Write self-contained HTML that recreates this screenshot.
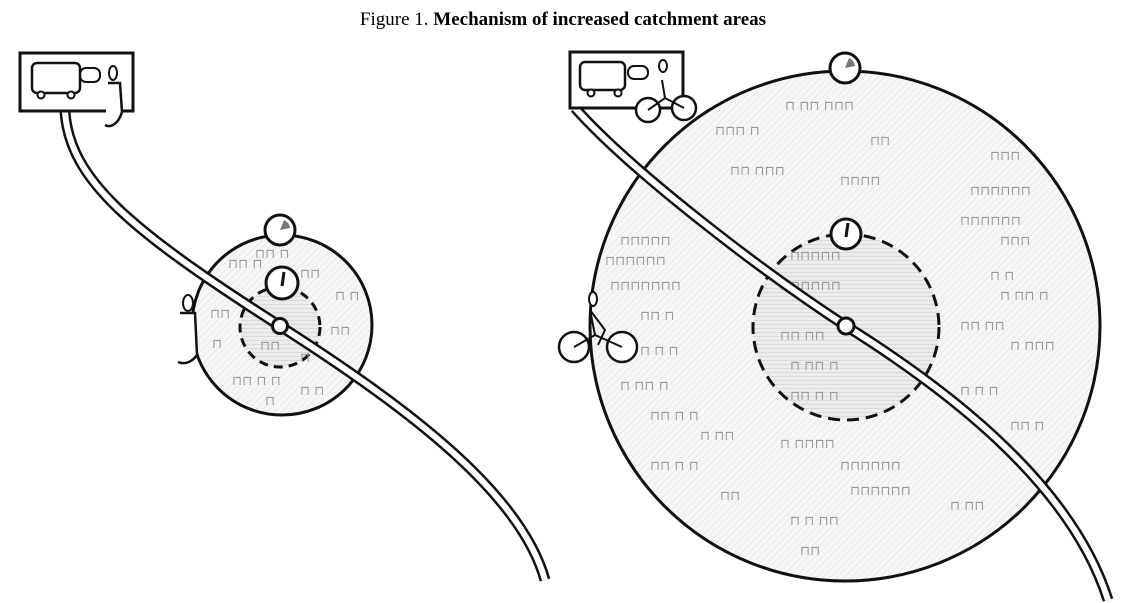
<!DOCTYPE html>
<html><head><meta charset="utf-8"><style>
html,body{margin:0;padding:0;background:#fff;}
svg{display:block;}
</style></head><body>
<svg width="1125" height="603" viewBox="0 0 1125 603" xmlns="http://www.w3.org/2000/svg">
<defs>
<pattern id="h" width="5" height="5" patternUnits="userSpaceOnUse" patternTransform="rotate(45)">
<rect width="5" height="5" fill="#f7f7f7"/><line x1="0" y1="0" x2="0" y2="5" stroke="#dcdcdc" stroke-width="1"/>
</pattern>
<pattern id="g" width="4" height="4" patternUnits="userSpaceOnUse">
<rect width="4" height="4" fill="#ececec"/><line x1="0" y1="0" x2="4" y2="0" stroke="#c8c8c8" stroke-width="1"/>
</pattern>
</defs>
<text x="563" y="25" text-anchor="middle" font-family="Liberation Serif, serif" font-size="19">Figure 1.  <tspan font-weight="bold">Mechanism of increased catchment areas</tspan></text>

<!-- LEFT -->
<circle cx="282" cy="325" r="90" fill="url(#h)" stroke="#111" stroke-width="3"/>
<circle cx="280" cy="327" r="40" fill="url(#g)" stroke="#111" stroke-width="3" stroke-dasharray="9,6"/>
<g font-family="DejaVu Sans, sans-serif" font-size="13" fill="#999">
<text x="228" y="268">⊓⊓ ⊓</text><text x="255" y="258">⊓⊓ ⊓</text><text x="300" y="278">⊓⊓</text>
<text x="210" y="318">⊓⊓</text><text x="335" y="300">⊓ ⊓</text><text x="330" y="335">⊓⊓</text>
<text x="212" y="348">⊓</text><text x="232" y="385">⊓⊓ ⊓ ⊓</text><text x="300" y="362">⊓</text>
<text x="265" y="405">⊓</text><text x="300" y="395">⊓ ⊓</text><text x="260" y="350">⊓⊓</text>
</g>
<path d="M65 112 C70 180,130 230,280 326 C400 403,520 490,545 580" fill="none" stroke="#111" stroke-width="11"/>
<path d="M65 112 C70 180,130 230,280 326 C400 403,520 490,545 580" fill="none" stroke="#fff" stroke-width="6"/>
<circle cx="280" cy="326" r="7.5" fill="#fff" stroke="#111" stroke-width="3"/>
<circle cx="280" cy="230" r="15" fill="#fff" stroke="#111" stroke-width="3"/>
<path d="M280 230 L284 220 A10 10 0 0 1 290 228 Z" fill="#777"/>
<circle cx="282" cy="283" r="16" fill="#fff" stroke="#111" stroke-width="3"/>
<path d="M282 286 L284 272" stroke="#111" stroke-width="3"/>
<rect x="20" y="53" width="113" height="58" fill="#fff" stroke="#111" stroke-width="3"/>
<rect x="32" y="63" width="48" height="30" rx="5" fill="none" stroke="#111" stroke-width="2.5"/>
<circle cx="41" cy="95" r="3.5" fill="#fff" stroke="#111" stroke-width="2"/><circle cx="71" cy="95" r="3.5" fill="#fff" stroke="#111" stroke-width="2"/>
<rect x="80" y="68" width="20" height="14" rx="6" fill="none" stroke="#111" stroke-width="2"/>
<ellipse cx="113" cy="73" rx="4" ry="7" fill="none" stroke="#111" stroke-width="2"/>
<path d="M108 83 L120 83 L122 112 C118 125,110 128,105 125" fill="#fff" stroke="#111" stroke-width="2.5"/>
<ellipse cx="188" cy="303" rx="5" ry="8" fill="#fff" stroke="#111" stroke-width="2"/>
<path d="M180 313 L195 313 L197 355 C192 362,185 365,178 362" fill="#fff" stroke="#111" stroke-width="2.5"/>

<!-- RIGHT -->
<circle cx="845" cy="326" r="255" fill="url(#h)" stroke="#111" stroke-width="3"/>
<circle cx="846" cy="327" r="93" fill="url(#g)" stroke="#111" stroke-width="3" stroke-dasharray="12,7"/>
<g font-family="DejaVu Sans, sans-serif" font-size="13" fill="#999">
<text x="715" y="135">⊓⊓⊓ ⊓</text><text x="785" y="110">⊓ ⊓⊓ ⊓⊓⊓</text><text x="870" y="145">⊓⊓</text>
<text x="730" y="175">⊓⊓ ⊓⊓⊓</text><text x="840" y="185">⊓⊓⊓⊓</text><text x="990" y="160">⊓⊓⊓</text>
<text x="970" y="195">⊓⊓⊓⊓⊓⊓</text><text x="960" y="225">⊓⊓⊓⊓⊓⊓</text><text x="1000" y="245">⊓⊓⊓</text>
<text x="620" y="245">⊓⊓⊓⊓⊓</text><text x="605" y="265">⊓⊓⊓⊓⊓⊓</text><text x="610" y="290">⊓⊓⊓⊓⊓⊓⊓</text>
<text x="640" y="320">⊓⊓ ⊓</text><text x="990" y="280">⊓ ⊓</text><text x="1000" y="300">⊓ ⊓⊓ ⊓</text>
<text x="960" y="330">⊓⊓ ⊓⊓</text><text x="1010" y="350">⊓ ⊓⊓⊓</text><text x="640" y="355">⊓ ⊓ ⊓</text>
<text x="620" y="390">⊓ ⊓⊓ ⊓</text><text x="650" y="420">⊓⊓ ⊓ ⊓</text><text x="960" y="395">⊓ ⊓ ⊓</text>
<text x="1010" y="430">⊓⊓ ⊓</text><text x="700" y="440">⊓ ⊓⊓</text><text x="780" y="448">⊓ ⊓⊓⊓⊓</text>
<text x="840" y="470">⊓⊓⊓⊓⊓⊓</text><text x="850" y="495">⊓⊓⊓⊓⊓⊓</text><text x="650" y="470">⊓⊓ ⊓ ⊓</text>
<text x="720" y="500">⊓⊓</text><text x="950" y="510">⊓ ⊓⊓</text><text x="790" y="525">⊓ ⊓ ⊓⊓</text>
<text x="800" y="555">⊓⊓</text><text x="790" y="260">⊓⊓⊓⊓⊓</text><text x="780" y="290">⊓⊓⊓⊓⊓⊓</text>
<text x="780" y="340">⊓⊓ ⊓⊓</text><text x="790" y="370">⊓ ⊓⊓ ⊓</text><text x="790" y="400">⊓⊓ ⊓ ⊓</text>
</g>
<path d="M575 108 C630 170,760 270,846 326 C940 385,1070 480,1108 600" fill="none" stroke="#111" stroke-width="11"/>
<path d="M575 108 C630 170,760 270,846 326 C940 385,1070 480,1108 600" fill="none" stroke="#fff" stroke-width="6"/>
<circle cx="846" cy="326" r="8" fill="#fff" stroke="#111" stroke-width="3"/>
<circle cx="845" cy="68" r="15" fill="#fff" stroke="#111" stroke-width="3"/>
<path d="M845 68 L849 58 A10 10 0 0 1 855 66 Z" fill="#777"/>
<circle cx="846" cy="234" r="15" fill="#fff" stroke="#111" stroke-width="3"/>
<path d="M846 237 L848 223" stroke="#111" stroke-width="3"/>
<rect x="570" y="52" width="113" height="56" fill="#fff" stroke="#111" stroke-width="3"/>
<rect x="580" y="62" width="45" height="28" rx="5" fill="none" stroke="#111" stroke-width="2.5"/>
<circle cx="591" cy="93" r="3.5" fill="#fff" stroke="#111" stroke-width="2"/><circle cx="618" cy="93" r="3.5" fill="#fff" stroke="#111" stroke-width="2"/>
<rect x="628" y="66" width="20" height="13" rx="6" fill="none" stroke="#111" stroke-width="2"/>
<circle cx="648" cy="110" r="12" fill="#fff" stroke="#111" stroke-width="2.5"/>
<circle cx="684" cy="108" r="12" fill="#fff" stroke="#111" stroke-width="2.5"/>
<path d="M648 110 L665 98 L684 108 M665 98 L662 80" fill="none" stroke="#111" stroke-width="2"/>
<ellipse cx="663" cy="66" rx="4" ry="6" fill="#fff" stroke="#111" stroke-width="2"/>
<circle cx="574" cy="347" r="15" fill="#fff" stroke="#111" stroke-width="2.5"/>
<circle cx="622" cy="347" r="15" fill="#fff" stroke="#111" stroke-width="2.5"/>
<path d="M574 347 L595 335 L622 347 M595 335 L590 310 L605 330 L598 345" fill="none" stroke="#111" stroke-width="2"/>
<ellipse cx="593" cy="299" rx="4" ry="7" fill="#fff" stroke="#111" stroke-width="2"/>
</svg>
</body></html>
